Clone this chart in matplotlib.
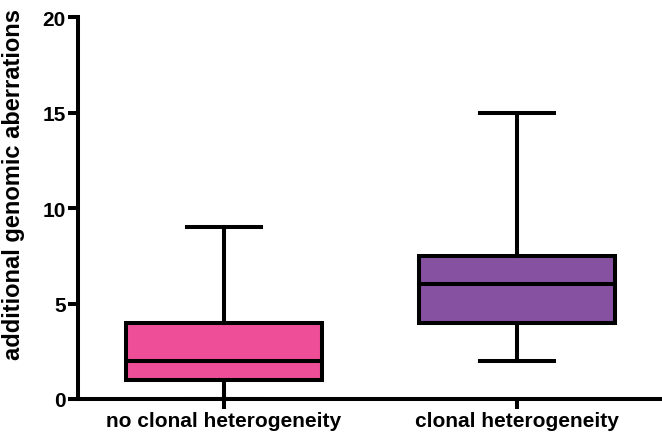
import matplotlib.pyplot as plt

plt.rcParams['font.family'] = ['Liberation Sans', 'DejaVu Sans']

# 그룹별 박스플롯 요약값
groups = ["no clonal heterogeneity", "clonal heterogeneity"]
mins = [0, 2]
q1s = [1, 4]
medians = [2, 6]
q3s = [4, 7.5]
maxs = [9, 15]
colors = ["#EE4E97", "#8651A1"]

stats = []
for g, lo, a, m, b, hi in zip(groups, mins, q1s, medians, q3s, maxs):
    stats.append({"label": g, "whislo": lo, "q1": a, "med": m, "q3": b, "whishi": hi})

fig = plt.figure(figsize=(6.62, 4.35), dpi=100)
ax = fig.add_axes([0.118, 0.0805, 0.882, 0.878])

lw = 2.9
bp = ax.bxp(stats, positions=[0, 1], widths=0.672, showfliers=False, patch_artist=True,
            boxprops=dict(linewidth=lw, edgecolor="black"),
            medianprops=dict(linewidth=lw, color="black"),
            whiskerprops=dict(linewidth=lw, color="black"),
            capprops=dict(linewidth=lw, color="black"),
            capwidths=0.25)
for patch, c in zip(bp["boxes"], colors):
    patch.set_facecolor(c)

ax.set_ylim(0, 20)
ax.set_xlim(-0.498, 1.495)
ax.set_yticks([0, 5, 10, 15, 20])
ax.spines["top"].set_visible(False)
ax.spines["right"].set_visible(False)
ax.spines["left"].set_linewidth(lw)
ax.spines["bottom"].set_linewidth(lw)
ax.tick_params(width=lw, length=7, labelsize=15, pad=2)
for t in ax.get_xticklabels() + ax.get_yticklabels():
    t.set_fontweight("bold")
ax.set_ylabel("additional genomic aberrations", fontsize=17, fontweight="bold", va="center")
ax.yaxis.set_label_coords(-0.111, 0.563)

fig.savefig("out.png", dpi=100)
